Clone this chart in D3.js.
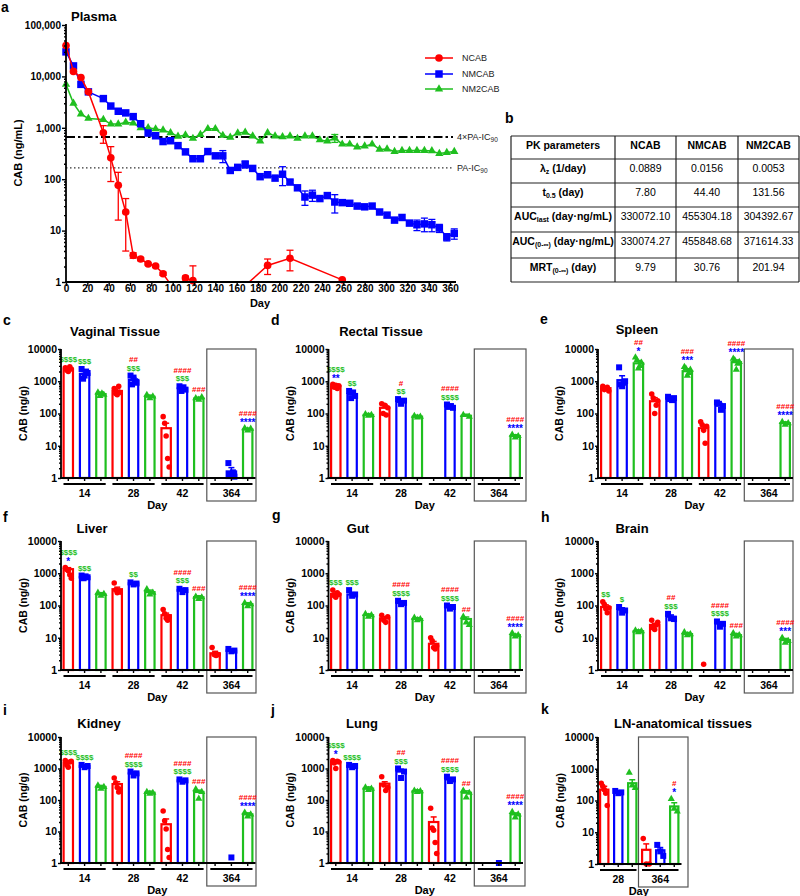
<!DOCTYPE html>
<html>
<head>
<meta charset="utf-8">
<script src="https://cdn.jsdelivr.net/npm/d3@7/dist/d3.min.js"></script>
<style>
html,body{margin:0;padding:0;background:#fff;}
svg text{font-family:"Liberation Sans",Arial,Helvetica,sans-serif;}
</style>
</head>
<body>
<svg id="fig" width="800" height="896" xmlns="http://www.w3.org/2000/svg"></svg>
<script>
// ================= DATA =================
const seriesNames = ["NCAB", "NMCAB", "NM2CAB"];

// Panel a – plasma
const ncabDays = [0,7,14,21,35,42,49,56,63,70,77,84,91,98,105,112,119,126,168,189,210,259];
const ncabVals = [40000,12500,9500,5000,800,260,76,23,3.3,2.8,2.25,2.05,1.45,0.9,0.7,1.2,1.06,0.3,0.85,2.1,2.9,1.1];
const ncabSem  = [0,0,0,0,300,170,60,19,0.4,0.2,0.1,0.1,0.1,0,0,0.1,1.0,0,0,0.7,1.25,0];

const plasmaDays = [0,7,14,21,35,42,49,56,63,70,77,84,91,98,105,112,119,126,133,140,147,154,161,168,175,182,189,196,203,210,217,224,231,238,245,252,259,266,273,280,287,294,301,308,315,322,329,336,343,350,357,364];
const nmcabVals = [30000,16000,7000,5000,3700,2650,2100,1950,1650,1200,790,700,540,560,450,340,250,250,345,285,285,148,170,195,162,112,122,105,125,88,68,45,49,42,48,36,35,34,30,29,30,23,20,16,18,14,13,13.5,13,11.2,7.5,8.8];
const nmcabSem  = [0,0,0,0,0,0,0,0,0,0,0,0,0,0,0,0,0,0,0,0,75,0,0,30,0,0,10,0,50,8,0,14,12,0,0,14,0,0,0,0,0,0,0,0,0,0,3,4,3.5,2,1.2,2];
const nm2cabVals = [7000,3000,1850,1520,1450,1180,1180,1280,1230,1000,1000,950,900,800,680,720,620,740,960,960,710,650,790,820,690,550,800,690,670,690,620,690,690,580,550,630,480,480,420,440,480,380,385,345,360,360,360,360,355,315,330,345];
const nm2cabSem  = [0,0,0,0,0,0,0,0,0,0,0,0,0,0,0,0,0,0,0,0,0,0,0,0,0,0,0,0,0,0,0,0,0,0,0,110,0,0,0,0,0,0,0,0,0,0,0,0,0,0,0,0];
const icLevels = [664, 166];
const icLabels = ["4×PA-IC", "PA-IC"];
const plasmaYTicks = [1,10,100,1000,10000,100000];
const plasmaXTicks = [0,20,40,60,80,100,120,140,160,180,200,220,240,260,280,300,320,340,360];

// Panel b – PK table
const pkHeader = ["PK parameters", "NCAB", "NMCAB", "NM2CAB"];
const pkParams = [["λ","z"," (1/day)"],["t","0.5"," (day)"],["AUC","last"," (day·ng/mL)"],["AUC","(0-∞)"," (day·ng/mL)"],["MRT","(0-∞)"," (day)"]];
const pkNCAB   = ["0.0889","7.80","330072.10","330074.27","9.79"];
const pkNMCAB  = ["0.0156","44.40","455304.18","455848.68","30.76"];
const pkNM2CAB = ["0.0053","131.56","304392.67","371614.33","201.94"];

// Tissue panels (bars ordered 14:NCAB,NMCAB,NM2CAB, 28:..., 42:..., 364:...)
const dayGroups = ["14","28","42","364"];
const lnDayGroups = ["28","364"];
const barYTicks = [1,10,100,1000,10000];

const vagMean = [2300,1700,400,500,1100,330,35,600,290,null,1.6,32];
const vagSem  = [250,350,60,80,200,40,15,80,30,0,0.5,3];
const vagPts  = [[2600,2200,2000,2800,2400],[2400,1200,1500,2000,1800],[450,350,420,380],[600,420,380,700,450],[1500,800,1300,1000,900],[380,300,340],[80,50,20,4,2.2],[700,500,650,550],[300,270,320],[],[2.9,1.3,1.2,1.5,1.1],[35,30,34]];
const vagSig  = ["$$$$","$$$","","","##|$$$","","","####|$$$","###","","","####|****"];

const recMean = [700,400,90,150,230,80,null,170,85,null,null,20];
const recSem  = [60,90,10,40,40,8,0,20,10,0,0,2];
const recPts  = [[800,650,750,600,720],[500,300,450,350],[95,85,90],[200,100,180,90,150],[280,200,250],[85,75,80],[],[190,160,170,150],[90,80],[],[],[22,18,20]];
const recSig  = ["$$$$|**","$$","","","#|$$","","","####|$$$$","","","","####|****"];

const splMean = [610,1080,3600,240,300,2050,35,180,3900,null,null,50];
const splSem  = [50,400,800,70,30,400,8,25,700,0,0,5];
const splPts  = [[700,550,600,650,500],[2700,800,700,900,1000],[5500,4500,2500,3000,3800],[400,300,100,180,250],[330,280,260,300],[2800,2500,1500,1800,2300],[55,45,30,12,40],[220,200,130,170],[5000,4500,2300,3500,4000],[],[],[55,45,50]];
const splSig  = ["","","##|*","","","###|***","","","####|****","","","####|****"];

const livMean = [1340,760,220,320,490,260,50,300,180,3.3,4.0,110];
const livSem  = [150,80,30,50,40,40,8,40,20,0.5,0.4,12];
const livPts  = [[1500,1300,1200,900,700],[850,700,800,750],[250,200,230],[500,300,250,280,260],[520,450,480],[320,220,250],[75,55,40,35,45],[330,260,300],[190,160,180],[5,3,2.8,3],[4.5,3.8,4.0],[120,95,110]];
const livSig  = ["$$$$|*","$$$","","","$$","","","####|$$$","###","","","####|****"];

const gutMean = [230,220,50,40,120,38,6.5,90,38,null,null,12];
const gutSem  = [30,30,5,5,15,4,1.2,10,6,0,0,1];
const gutPts  = [[300,200,180,250,220],[300,200,220],[55,45,50],[50,35,30,45],[140,110,120],[42,35,38],[10,8,5,4.5,5.5],[100,80,90],[45,30,25],[],[],[14,11,12]];
const gutSig  = ["$$$","$$$","","","####|$$$$","","","####|$$$$","##","","","####|****"];

const brnMean = [90,75,16,25,45,13,null,28,12,null,null,8.5];
const brnSem  = [15,10,1.5,3,6,1.5,0,3,1.5,0,0,1];
const brnPts  = [[130,110,80,60,85],[90,60,70],[17,15,16],[35,20,18,25,30],[55,40,38],[15,12,13],[1.5],[32,22,27],[14,11,12],[],[],[10,7,8]];
const brnSig  = ["$$","$","","","##|$$$","","","####|$$$$","###","","","####|***"];

const kidMean = [1500,1200,260,320,700,170,17,420,180,null,null,35];
const kidSem  = [150,100,30,60,100,20,8,40,25,0,0,4];
const kidPts  = [[1800,1300,1100,1600,1700],[1300,1100,1200],[290,230,260],[500,350,250,180,220],[800,600,700],[180,160,170],[45,22,12,2.7,1.5],[450,380,420],[220,110,180],[],[1.5],[40,30,35]];
const kidSig  = ["$$$$","$$$$","","","####|$$$$","","","####|$$$$","###","","","####|****"];

const lngMean = [1600,1200,230,330,800,190,20,450,170,null,null,35];
const lngSem  = [200,100,30,50,150,20,9,50,25,0,0,4];
const lngPts  = [[1800,1500,1000,1700,1600],[1300,1100,1200],[250,210,230],[550,300,200,250],[1000,500,800],[200,180,190],[55,13,11,4.5,2],[550,400,450],[200,120,170],[],[1],[42,28,35]];
const lngSig  = ["$$$$|*","$$$$","","","##|$$$","","","####|$$$$","##","","","####|****"];

const lnMean = [220,180,350,2.8,2.7,65];
const lnSem  = [60,20,100,1.5,0.6,20];
const lnPts  = [[350,280,220,170,70],[200,170,180],[750,300,250],[6.3,1,1],[4,2.5,1.8],[112,55,45]];
const lnSig  = ["","","","","","#|*"];

// ================= DRAWING =================
const FONT = '"Liberation Sans", Arial, Helvetica, sans-serif';
const RED = "#ff0000", BLUE = "#0000ff", GREEN = "#1fbf1f";
const COL = [RED, BLUE, GREEN];
const SYM = [d3.symbolCircle, d3.symbolSquare, d3.symbolTriangle];
const svg = d3.select("#fig");
svg.append("rect").attr("width",800).attr("height",896).attr("fill","#fff");

function styleAxis(g, fs) {
  g.attr("font-family", FONT);
  g.select(".domain").remove();
  g.selectAll(".tick line").attr("stroke", "#000").attr("stroke-width", 1.4);
  g.selectAll(".tick text").attr("font-size", fs).attr("font-weight", "bold").attr("fill", "#000");
}
function minorLog(maxExp) {
  const out = [];
  for (let e = 0; e < maxExp; e++) for (let k = 2; k <= 9; k++) out.push(k * Math.pow(10, e));
  return out;
}
function addText(g, x, y, txt, fs, bold, anchor, fill) {
  return g.append("text").attr("x", x).attr("y", y).attr("font-size", fs)
    .attr("font-weight", bold ? "bold" : "normal").attr("text-anchor", anchor || "start")
    .attr("fill", fill || "#000").text(txt);
}

// ---------- Panel a ----------
const pa = svg.append("g");
const px = d3.scaleLinear().domain([0, 360]).range([66, 450]);
const py = d3.scaleLog().domain([1, 100000]).range([282, 25]);
svg.append("defs").append("clipPath").attr("id", "clipA")
  .append("rect").attr("x", 55).attr("y", 10).attr("width", 410).attr("height", 272);

addText(pa, 1, 12, "a", 14, true);
addText(pa, 71, 21, "Plasma", 13, true);

// reference lines
pa.append("line").attr("x1", 66).attr("x2", 453).attr("y1", py(icLevels[0])).attr("y2", py(icLevels[0]))
  .attr("stroke", "#000").attr("stroke-width", 2).attr("stroke-dasharray", "9,3,2.5,3");
pa.append("line").attr("x1", 66).attr("x2", 453).attr("y1", py(icLevels[1])).attr("y2", py(icLevels[1]))
  .attr("stroke", "#333").attr("stroke-width", 1.3).attr("stroke-dasharray", "1.5,2.5");
icLevels.forEach((v, i) => {
  const t = pa.append("text").attr("x", 457).attr("y", py(v) + 3.5).attr("font-size", 9).attr("fill", "#222");
  t.append("tspan").text(icLabels[i]);
  t.append("tspan").attr("font-size", 6.5).attr("dy", 2).text("90");
});

function plasmaSeries(days, vals, sems, ci, size) {
  const pts = days.map((d, i) => ({ d: d, v: vals[i], s: sems[i] }));
  const gc = pa.append("g").attr("clip-path", "url(#clipA)");
  gc.append("path").datum(pts)
    .attr("d", d3.line().x(p => px(p.d)).y(p => py(p.v)))
    .attr("fill", "none").attr("stroke", COL[ci]).attr("stroke-width", 1.5);
  pts.filter(p => p.s > 0).forEach(p => {
    const lo = Math.max(p.v - p.s, 0.01), hi = p.v + p.s, cx = px(p.d);
    gc.append("line").attr("x1", cx).attr("x2", cx).attr("y1", py(lo)).attr("y2", py(hi)).attr("stroke", COL[ci]).attr("stroke-width", 1.3);
    [lo, hi].forEach(v => gc.append("line").attr("x1", cx - 3.5).attr("x2", cx + 3.5).attr("y1", py(v)).attr("y2", py(v)).attr("stroke", COL[ci]).attr("stroke-width", 1.3));
  });
  pa.append("g").selectAll("path").data(pts.filter(p => p.v >= 1)).join("path")
    .attr("transform", p => `translate(${px(p.d)},${py(p.v)})`)
    .attr("d", d3.symbol().type(SYM[ci]).size(size)).attr("fill", COL[ci]);
}
plasmaSeries(plasmaDays, nm2cabVals, nm2cabSem, 2, 30);
plasmaSeries(plasmaDays, nmcabVals, nmcabSem, 1, 56);
plasmaSeries(ncabDays, ncabVals, ncabSem, 0, 46);

// axes
pa.append("line").attr("x1", 66).attr("x2", 66).attr("y1", 283).attr("y2", 24).attr("stroke", "#000").attr("stroke-width", 1.8);
pa.append("line").attr("x1", 65).attr("x2", 456).attr("y1", 282).attr("y2", 282).attr("stroke", "#000").attr("stroke-width", 1.8);
const pyAx = pa.append("g").attr("transform", "translate(66,0)")
  .call(d3.axisLeft(py).tickValues(plasmaYTicks).tickFormat(d3.format(",")).tickSize(4).tickPadding(1).tickSizeOuter(0));
styleAxis(pyAx, 10);
const pyMin = pa.append("g").attr("transform", "translate(66,0)")
  .call(d3.axisLeft(py).tickValues(minorLog(5)).tickFormat("").tickSize(2).tickSizeOuter(0));
styleAxis(pyMin, 10);
const pxAx = pa.append("g").attr("transform", "translate(0,282)")
  .call(d3.axisBottom(px).tickValues(plasmaXTicks).tickFormat(d3.format("d")).tickSize(4).tickSizeOuter(0));
styleAxis(pxAx, 10);
pxAx.selectAll(".tick text").attr("dy", null).attr("y", 9.5);
addText(pa, 260, 307, "Day", 11, true, "middle");
pa.append("text").attr("transform", "translate(22,153) rotate(-90)").attr("text-anchor", "middle")
  .attr("font-size", 11).attr("font-weight", "bold").text("CAB (ng/mL)");

// legend
seriesNames.forEach((nm, i) => {
  const ly = [58, 74, 89][i];
  pa.append("line").attr("x1", 425).attr("x2", 453).attr("y1", ly).attr("y2", ly).attr("stroke", COL[i]).attr("stroke-width", 1.5);
  pa.append("path").attr("transform", `translate(439,${ly})`).attr("d", d3.symbol().type(SYM[i]).size([46, 56, 30][i])()).attr("fill", COL[i]);
  addText(pa, 462, ly + 3.3, nm, 9, false, "start", "#222");
});

// ---------- Panel b ----------
const pb = svg.append("g");
addText(pb, 505, 123, "b", 14, true);
const tRows = [136, 159, 183, 207, 232, 258, 282];
const tCols = [511, 615, 676, 738, 799];
tRows.forEach(yv => pb.append("line").attr("x1", tCols[0]).attr("x2", tCols[4]).attr("y1", yv).attr("y2", yv).attr("stroke", "#222").attr("stroke-width", 1.2));
tCols.forEach(xv => pb.append("line").attr("x1", xv).attr("x2", xv).attr("y1", tRows[0]).attr("y2", tRows[6]).attr("stroke", "#222").attr("stroke-width", 1.2));
const colC = tCols.slice(0, 4).map((c, i) => (c + tCols[i + 1]) / 2);
pkHeader.forEach((h, i) => addText(pb, colC[i], tRows[0] + 12.5, h, 10.5, true, "middle"));
const pkCols = [pkNCAB, pkNMCAB, pkNM2CAB];
pkParams.forEach((p, r) => {
  const yb = tRows[r + 1] + 12.5;
  const t = pb.append("text").attr("x", colC[0]).attr("y", yb).attr("text-anchor", "middle").attr("font-size", 10.5).attr("font-weight", "bold");
  t.append("tspan").text(p[0]);
  t.append("tspan").attr("font-size", 7).attr("dy", 2).text(p[1]);
  t.append("tspan").attr("dy", -2).text(p[2]);
  pkCols.forEach((col, c) => addText(pb, colC[c + 1], yb, col[r], 10.5, false, "middle"));
});

// ---------- Bar panels ----------
const BSZ = [24, 36, 22];
function barPanel(L, groups, mean, sem, pts, sig) {
  const g = svg.append("g");
  const n = mean.length;
  const y = d3.scaleLog().domain([1, 10000]).range([L.base, L.top]);
  const xb = d3.scaleBand().domain(d3.range(n)).range([L.x0, L.x1]).paddingInner(L.pad).paddingOuter(0);
  const bw = xb.bandwidth();
  addText(g, L.lx, L.ly, L.label, 14, true);
  addText(g, L.tx, L.top - L.tOff, L.title, 13, true, "middle");
  g.append("text").attr("transform", `translate(${L.ylx},${(L.top + L.base) / 2}) rotate(-90)`)
    .attr("text-anchor", "middle").attr("dy", "0.35em").attr("font-size", 10.5).attr("font-weight", "bold").text("CAB (ng/g)");
  // box around day 364
  const bx = xb(n - 3) - 2.5;
  g.append("rect").attr("x", bx).attr("y", L.top).attr("width", L.boxR - bx).attr("height", L.base + 23 - L.top)
    .attr("fill", "none").attr("stroke", "#555").attr("stroke-width", 1.2);
  // bars
  mean.forEach((m, i) => {
    if (m == null) return;
    g.append("rect").attr("x", xb(i) + 1.1).attr("y", y(m)).attr("width", bw - 2.2).attr("height", L.base - y(m))
      .attr("fill", "#fff").attr("stroke", COL[i % 3]).attr("stroke-width", 2.2);
  });
  // points
  pts.forEach((arr, i) => {
    const cx = xb(i) + bw / 2, k = arr.length;
    arr.forEach((v, j) => {
      const off = k === 1 ? 0 : -3 + 6 * j / (k - 1);
      g.append("path").attr("transform", `translate(${cx + off},${y(v)})`)
        .attr("d", d3.symbol().type(SYM[i % 3]).size(BSZ[i % 3])()).attr("fill", COL[i % 3]);
    });
  });
  // error bars (upper)
  mean.forEach((m, i) => {
    if (m == null || !sem[i]) return;
    const cx = xb(i) + bw / 2, yt = y(m + sem[i]);
    g.append("line").attr("x1", cx).attr("x2", cx).attr("y1", y(m)).attr("y2", yt).attr("stroke", COL[i % 3]).attr("stroke-width", 1.5);
    g.append("line").attr("x1", cx - 3).attr("x2", cx + 3).attr("y1", yt).attr("y2", yt).attr("stroke", COL[i % 3]).attr("stroke-width", 1.5);
  });
  // significance marks
  sig.forEach((s, i) => {
    if (!s) return;
    const cx = xb(i) + bw / 2;
    const topV = Math.max(mean[i] != null ? mean[i] + sem[i] : 1, ...pts[i]);
    let yc = y(topV) - 8;
    s.split("|").reverse().forEach(t => {
      const c = t[0];
      const star = c === "*";
      g.append("text").attr("x", cx).attr("y", star ? yc + 5.5 : yc + 3).attr("text-anchor", "middle")
        .attr("font-size", star ? 10 : 8).attr("font-weight", "bold")
        .attr("fill", c === "$" ? GREEN : c === "#" ? RED : BLUE).text(t);
      yc -= star ? 7.5 : 8.5;
    });
  });
  // axes
  g.append("line").attr("x1", L.axisX).attr("x2", L.axisX).attr("y1", L.base + 1).attr("y2", L.top).attr("stroke", "#000").attr("stroke-width", 1.8);
  g.append("line").attr("x1", L.axisX - 1).attr("x2", L.x1 + 2).attr("y1", L.base).attr("y2", L.base).attr("stroke", "#000").attr("stroke-width", 1.8);
  const ya = g.append("g").attr("transform", `translate(${L.axisX},0)`)
    .call(d3.axisLeft(y).tickValues(barYTicks).tickFormat(d3.format("d")).tickSize(3).tickPadding(1).tickSizeOuter(0));
  styleAxis(ya, 10.5);
  const ym = g.append("g").attr("transform", `translate(${L.axisX},0)`)
    .call(d3.axisLeft(y).tickValues(minorLog(4)).tickFormat("").tickSize(2).tickSizeOuter(0));
  styleAxis(ym, 10);
  const xa = g.append("g").attr("transform", `translate(0,${L.base})`)
    .call(d3.axisBottom(xb).tickSize(3).tickFormat("").tickSizeOuter(0));
  styleAxis(xa, 10);
  groups.forEach((lab, gi) => {
    const xl = xb(3 * gi) + 1, xr = xb(3 * gi + 2) + bw - 1;
    g.append("line").attr("x1", xl).attr("x2", xr).attr("y1", L.base + 6).attr("y2", L.base + 6).attr("stroke", "#000").attr("stroke-width", 2.2);
    addText(g, xb(3 * gi + 1) + bw / 2, L.base + 19, lab, 10.5, true, "middle");
  });
  addText(g, (L.axisX + L.x1) / 2, L.base + 31, "Day", 11, true, "middle");
}

const panelLayout = {
  c: { label: "c", lx: 3,   ly: 325, title: "Vaginal Tissue", tx: 115, tOff: 13, axisX: 61,    x0: 62.5, x1: 253.5, boxR: 256, pad: 0.29, top: 349, base: 478, ylx: 23 },
  d: { label: "d", lx: 271, ly: 325, title: "Rectal Tissue",  tx: 381, tOff: 13, axisX: 328.5, x0: 330,  x1: 521,   boxR: 526, pad: 0.29, top: 349, base: 478, ylx: 290 },
  e: { label: "e", lx: 540, ly: 324, title: "Spleen",         tx: 637, tOff: 15, axisX: 598,   x0: 600,  x1: 791,   boxR: 793, pad: 0.29, top: 349, base: 478, ylx: 559 },
  f: { label: "f", lx: 3,   ly: 522, title: "Liver",          tx: 92,  tOff: 8,  axisX: 61,    x0: 62.5, x1: 253.5, boxR: 256, pad: 0.29, top: 541, base: 670, ylx: 23 },
  g: { label: "g", lx: 272, ly: 520, title: "Gut",            tx: 358, tOff: 8,  axisX: 328.5, x0: 330,  x1: 521,   boxR: 526, pad: 0.29, top: 541, base: 670, ylx: 290 },
  h: { label: "h", lx: 541, ly: 522, title: "Brain",          tx: 632, tOff: 8,  axisX: 598,   x0: 600,  x1: 791,   boxR: 793, pad: 0.29, top: 541, base: 670, ylx: 559 },
  i: { label: "i", lx: 3,   ly: 715, title: "Kidney",         tx: 99,  tOff: 9,  axisX: 61,    x0: 62.5, x1: 253.5, boxR: 256, pad: 0.29, top: 737, base: 863, ylx: 23 },
  j: { label: "j", lx: 271, ly: 715, title: "Lung",           tx: 362, tOff: 9,  axisX: 328.5, x0: 330,  x1: 521,   boxR: 525, pad: 0.29, top: 737, base: 863, ylx: 290 },
  k: { label: "k", lx: 541, ly: 714, title: "LN-anatomical tissues", tx: 683, tOff: 9, axisX: 598, x0: 599, x1: 679.5, boxR: 688, pad: 0.25, top: 737, base: 864, ylx: 560 }
};

barPanel(panelLayout.c, dayGroups, vagMean, vagSem, vagPts, vagSig);
barPanel(panelLayout.d, dayGroups, recMean, recSem, recPts, recSig);
barPanel(panelLayout.e, dayGroups, splMean, splSem, splPts, splSig);
barPanel(panelLayout.f, dayGroups, livMean, livSem, livPts, livSig);
barPanel(panelLayout.g, dayGroups, gutMean, gutSem, gutPts, gutSig);
barPanel(panelLayout.h, dayGroups, brnMean, brnSem, brnPts, brnSig);
barPanel(panelLayout.i, dayGroups, kidMean, kidSem, kidPts, kidSig);
barPanel(panelLayout.j, dayGroups, lngMean, lngSem, lngPts, lngSig);
barPanel(panelLayout.k, lnDayGroups, lnMean, lnSem, lnPts, lnSig);
</script>
</body>
</html>
